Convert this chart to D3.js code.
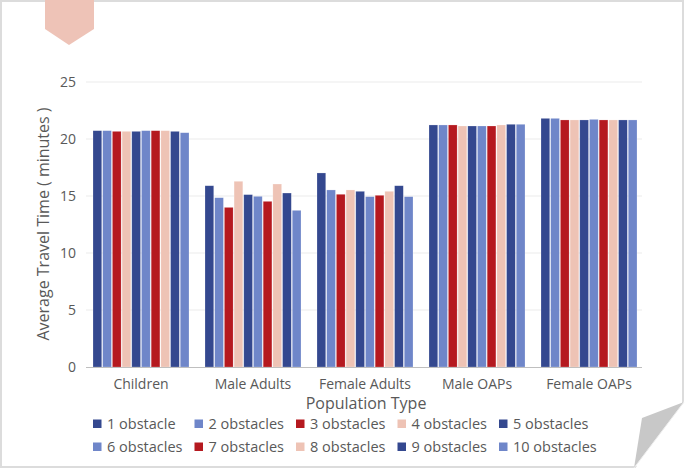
<!DOCTYPE html>
<html><head><meta charset="utf-8">
<script src="https://cdn.jsdelivr.net/npm/d3@7"></script>
<style>
html,body{margin:0;padding:0;background:#fff;}
svg{display:block;font-family:"Open Sans","Noto Sans",sans-serif;}
</style></head>
<body>
<svg id="chart" width="685" height="470"></svg>
<script>
const categories = ["Children","Male Adults","Female Adults","Male OAPs","Female OAPs"];
const seriesNames = ["1 obstacle","2 obstacles","3 obstacles","4 obstacles","5 obstacles","6 obstacles","7 obstacles","8 obstacles","9 obstacles","10 obstacles"];
const s1  = [20.73, 15.90, 17.02, 21.23, 21.81];
const s2  = [20.73, 14.85, 15.53, 21.23, 21.81];
const s3  = [20.67, 14.00, 15.15, 21.23, 21.67];
const s4  = [20.67, 16.29, 15.53, 21.14, 21.67];
const s5  = [20.67, 15.12, 15.41, 21.14, 21.67];
const s6  = [20.73, 14.97, 14.94, 21.14, 21.72];
const s7  = [20.73, 14.53, 15.06, 21.14, 21.67];
const s8  = [20.73, 16.05, 15.41, 21.23, 21.67];
const s9  = [20.67, 15.26, 15.90, 21.29, 21.67];
const s10 = [20.55, 13.74, 14.94, 21.29, 21.67];
const seriesValues = [s1,s2,s3,s4,s5,s6,s7,s8,s9,s10];
const yTicks = [0,5,10,15,20,25];
const colors = ["#34488f","#6f86c9","#b5191f","#eec3b5","#34488f","#6f86c9","#b5191f","#eec3b5","#34488f","#6f86c9"];

const svg = d3.select("#chart");

// card frame
svg.append("rect").attr("x",1).attr("y",1).attr("width",682).attr("height",466)
  .attr("fill","#fff").attr("stroke","#dcdcdc").attr("stroke-width",2);

// folded corner
const fold = svg.append("g");
fold.append("polygon").attr("points","634,470 685,470 685,400").attr("fill","#fff");
fold.append("polygon").attr("points","684,402 642,418 634,468").attr("fill","#c8c8c8");
fold.append("line").attr("x1",634).attr("y1",468).attr("x2",684).attr("y2",402).attr("stroke","#eee").attr("stroke-width",1);

// bookmark
svg.append("polygon").attr("points","45,0 94,0 94,29 69,45 45,29").attr("fill","#eec3b7");

const x0 = d3.scaleBand().domain(categories).range([85,645]);
const x1 = d3.scaleBand().domain(seriesNames).range([8,104]).paddingInner(0.1);
const y = d3.scaleLinear().domain([0,25]).range([367,82]);

// grid
svg.append("g").selectAll("line").data(yTicks.filter(d=>d>0)).join("line")
  .attr("x1",86).attr("x2",642).attr("y1",d=>y(d)).attr("y2",d=>y(d))
  .attr("stroke","#ebebeb").attr("stroke-width",1);

// y tick labels
svg.append("g").selectAll("text").data(yTicks).join("text")
  .attr("x",76).attr("y",d=>y(d)).attr("dy","0.35em").attr("text-anchor","end")
  .attr("font-size",14).attr("fill","#595959").text(d=>d);

// bars
const groups = svg.append("g").selectAll("g").data(categories).join("g")
  .attr("transform",d=>`translate(${x0(d)},0)`);
groups.selectAll("rect").data((c,ci)=>seriesNames.map((s,si)=>({s,si,v:seriesValues[si][ci]}))).join("rect")
  .attr("x",d=>x1(d.s)).attr("width",x1.bandwidth())
  .attr("y",d=>y(d.v)).attr("height",d=>y(0)-y(d.v))
  .attr("fill",d=>colors[d.si]).attr("stroke","rgba(255,255,255,0.35)").attr("stroke-width",0.6);

// baseline
svg.append("line").attr("x1",86).attr("x2",642).attr("y1",367.5).attr("y2",367.5)
  .attr("stroke","#bfbfbf").attr("stroke-width",1);

// category labels
svg.append("g").selectAll("text").data(categories).join("text")
  .attr("x",d=>x0(d)+x0.bandwidth()/2).attr("y",389).attr("text-anchor","middle")
  .attr("font-size",14).attr("fill","#595959").text(d=>d);

// axis titles
svg.append("text").attr("x",366).attr("y",409).attr("text-anchor","middle")
  .attr("font-size",16).attr("fill","#595959").text("Population Type");
svg.append("text").attr("transform","translate(49,224) rotate(-90)").attr("text-anchor","middle")
  .attr("font-size",16).attr("fill","#595959").text("Average Travel Time ( minutes )");

// legend
const legend = svg.append("g").selectAll("g").data(seriesNames).join("g")
  .attr("transform",(d,i)=>`translate(${93 + (i%5)*101.5},${i<5?424:447})`);
legend.append("rect").attr("x",0).attr("y",-4.5).attr("width",8.5).attr("height",8.5)
  .attr("fill",(d,i)=>colors[i]);
legend.append("text").attr("x",14).attr("y",0).attr("dy","0.35em")
  .attr("font-size",14.5).attr("fill","#595959").text(d=>d);
</script>
</body></html>
